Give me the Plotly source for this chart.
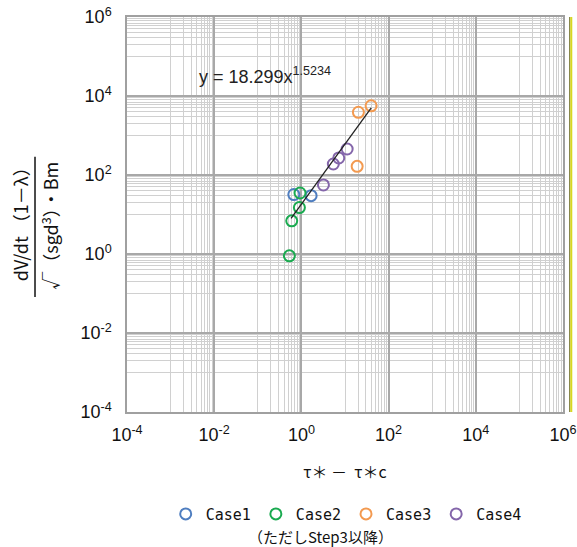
import plotly.graph_objects as go

# Data
case1_x = [0.67, 1.67]
case1_y = [32, 30]
case2_x = [0.53, 0.6, 0.9, 0.93]
case2_y = [0.9, 6.9, 15, 35]
case3_x = [20.3, 39.7, 19]
case3_y = [3870, 5650, 166]
case4_x = [3.2, 5.4, 7.2, 11.2]
case4_y = [56, 190, 270, 455]
trend_x = [0.58, 40]
trend_y = [8.0, 5000]

names = ["Case1", "Case2", "Case3", "Case4"]
colors = ["#4f7ec0", "#1aaa50", "#f39a50", "#8466aa"]

x_major = [-4, -2, 0, 2, 4, 6]
y_major = [-4, -2, 0, 2, 4, 6]
major_labels = ["10<sup>%d</sup>" % e for e in x_major]

def minor_vals(lo, hi):
    vals = []
    for e in range(lo, hi):
        if e % 2 != 0:
            for k in range(1, 10):
                vals.append(k * 10.0 ** e)
    return vals

fig = go.Figure()
series = [(case1_x, case1_y), (case2_x, case2_y), (case3_x, case3_y), (case4_x, case4_y)]
for (xs, ys), n, c in zip(series, names, colors):
    fig.add_trace(go.Scatter(
        x=xs, y=ys, mode="markers", name=n,
        marker=dict(symbol="circle-open", size=11, color=c, line=dict(width=2, color=c)),
    ))

fig.add_trace(go.Scatter(x=trend_x, y=trend_y, mode="lines",
                         line=dict(color="#222222", width=1.3), showlegend=False))

axis_common = dict(
    type="log", automargin=False, ticklabeloverflow="allow",
    showgrid=True, gridcolor="#a8a8a8", gridwidth=1.5,
    showline=True, linecolor="#a0a0a0", linewidth=1.5, mirror=True,
    ticks="", zeroline=False,
    tickfont=dict(family="Liberation Sans, Arial", size=18, color="#111"),
)

fig.update_xaxes(
    range=[-4, 6],
    tickvals=[10.0 ** e for e in x_major], ticktext=major_labels,
    ticklabelstandoff=6,
    minor=dict(tickvals=minor_vals(-4, 6), showgrid=True, gridcolor="#d0d0d0", gridwidth=1),
    title=dict(text="τ＊ －  τ＊c", font=dict(family="Noto Sans CJK JP", size=16, color="#111"), standoff=22),
    **axis_common,
)
fig.update_yaxes(
    range=[-4, 6],
    tickvals=[10.0 ** e for e in y_major], ticktext=major_labels,
    ticklabelstandoff=10,
    minor=dict(tickvals=minor_vals(-4, 6), showgrid=True, gridcolor="#d0d0d0", gridwidth=1),
    **axis_common,
)

fig.update_layout(
    width=577, height=547,
    margin=dict(l=127, r=14, t=17, b=135, autoexpand=False),
    paper_bgcolor="white", plot_bgcolor="white",
    showlegend=True,
    legend=dict(orientation="h", x=0.6, xanchor="center", xref="container",
                y=0.06, yanchor="middle", yref="container",
                font=dict(family="DejaVu Sans Mono", size=15, color="#111"),
                itemwidth=30),
    annotations=[
        dict(text="y = 18.299x<sup>1.5234</sup>", x=0.16, y=0.853, xref="paper", yref="paper",
             xanchor="left", yanchor="middle", showarrow=False,
             font=dict(family="Liberation Sans, Arial", size=18, color="#222")),
        dict(text="dV/dt （1－λ）", x=-0.245, y=0.486, xref="paper", yref="paper",
             textangle=-90, showarrow=False, xanchor="center", yanchor="middle",
             font=dict(family="Noto Sans CJK JP", size=18, color="#111")),
        dict(text="√（sgd<sup>3</sup>）・Bm", x=-0.177, y=0.471, xref="paper", yref="paper",
             textangle=-90, showarrow=False, xanchor="center", yanchor="middle",
             font=dict(family="Noto Sans CJK JP", size=18, color="#111")),
        dict(text="（ただしStep3以降）", x=0.443, y=-0.316, xref="paper", yref="paper",
             showarrow=False, xanchor="center", yanchor="middle",
             font=dict(family="Noto Sans CJK JP", size=15, color="#111")),
    ],
    shapes=[
        dict(type="line", xref="paper", yref="paper", x0=-0.211, x1=-0.211, y0=0.291, y1=0.646,
             line=dict(color="#111", width=1.5)),
        dict(type="line", xref="paper", yref="paper", x0=1.0155, x1=1.0155, y0=0.0, y1=1.0,
             line=dict(color="#606010", width=1)),
        dict(type="line", xref="paper", yref="paper", x0=1.019, x1=1.019, y0=0.0, y1=1.0,
             line=dict(color="#d8d820", width=2)),
    ],
)

fig.write_html("out.html",
               config={"displayModeBar": False},
               post_script="document.body.style.margin='0';document.body.style.overflow='hidden';")
